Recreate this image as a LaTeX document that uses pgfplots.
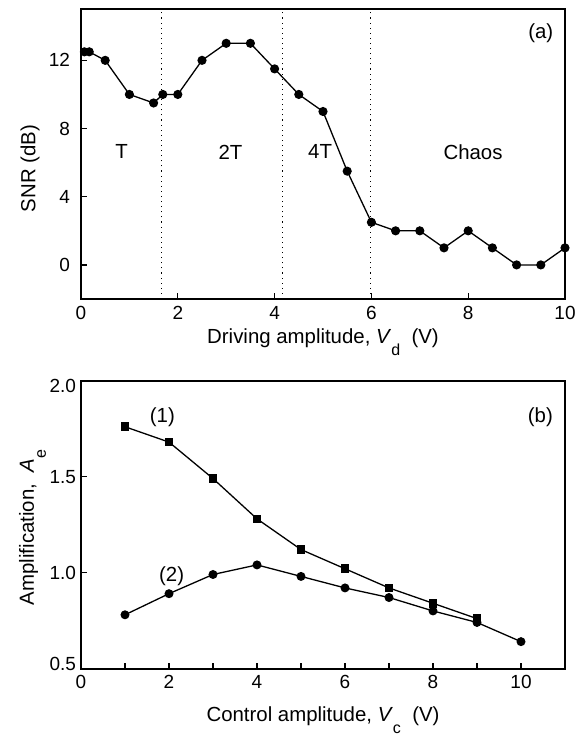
\documentclass[border=0pt]{standalone}
\usepackage{pgfplots}
\pgfplotsset{compat=1.18}
\usepackage{pgfplotstable}
\usepackage{fontspec}
\setmainfont{Liberation Sans}

% SNR against driving amplitude
\pgfplotstableread{
x y
0.07 12.5
0.17 12.5
0.5 12
1.0 10
1.5 9.5
1.69 10
2.0 10
2.5 12
3.0 13
3.5 13
4.0 11.5
4.5 10
5.0 9
5.5 5.5
6.0 2.5
6.5 2
7.0 2
7.5 1
8.0 2
8.5 1
9.0 0
9.5 0
10.0 1
}\snrdata

% Amplification against control amplitude, curve (1)
\pgfplotstableread{
x y
1 1.76
2 1.68
3 1.49
4 1.28
5 1.12
6 1.02
7 0.92
8 0.84
9 0.76
}\ampone

% Amplification against control amplitude, curve (2)
\pgfplotstableread{
x y
1 0.78
2 0.89
3 0.99
4 1.04
5 0.98
6 0.92
7 0.87
8 0.80
9 0.74
10 0.64
}\amptwo

\newcommand{\labfont}{\fontsize{10.2}{12}\selectfont}
\newcommand{\subfont}{\fontsize{8}{9}\selectfont}

\pgfplotsset{
  panel/.style={
    scale only axis,
    width=242pt,
    tick pos=left,
    tick align=inside,
    major tick length=3pt,
    minor tick length=3pt,
    axis line style={line width=1pt},
    every tick/.style={line width=0.6pt, black},
    ticklabel style={font=\fontsize{9.5}{11}\selectfont},
    label style={font=\labfont},
    /pgf/number format/assume math mode=true,
    clip=false,
  },
  curve/.style={black, line width=0.65pt},
}

\begin{document}
\begin{tikzpicture}
\path[use as bounding box] (0,0) rectangle (291pt,-367pt);

% (a) SNR
\begin{axis}[panel,
  at={(40.5pt,-149.5pt)}, anchor=south west,
  height=144.9pt,
  xmin=0, xmax=10, ymin=-2, ymax=15,
  xtick={0,2,...,10}, ytick={0,4,8,12},
  yticklabel style={xshift=-2pt},
  xlabel={Driving amplitude, \textit{V}\raisebox{-1.1ex}{\subfont d}\ \ (V)},
  ylabel={SNR (dB)},
  xlabel style={at={(axis description cs:0.5,-0.155)}, anchor=base},
  ylabel style={at={(axis description cs:-0.105,0.45)}, anchor=center},
]
\draw[dotted, line width=0.55pt] (axis cs:1.66,-2) -- (axis cs:1.66,15);
\draw[dotted, line width=0.55pt] (axis cs:4.17,-2) -- (axis cs:4.17,15);
\draw[dotted, line width=0.55pt] (axis cs:5.99,-2) -- (axis cs:5.99,15);
\addplot[curve, mark=*, mark size=1.95pt] table {\snrdata};
\node[font=\labfont] at (axis cs:0.84,6.63) {T};
\node[font=\labfont] at (axis cs:3.09,6.63) {2T};
\node[font=\labfont] at (axis cs:4.94,6.63) {4T};
\node[font=\labfont] at (axis cs:8.1,6.63) {Chaos};
\node[font=\labfont] at (axis cs:9.5,13.6) {(a)};
\end{axis}

% (b) amplification
\begin{axis}[panel,
  at={(40.5pt,-334.25pt)}, anchor=south west,
  height=143.9pt,
  xmin=0, xmax=11, ymin=0.5, ymax=2,
  xtick={0,2,...,10}, minor x tick num=1,
  ytick={0.5,1,1.5,2},
  yticklabels={\raisebox{2.5pt}[\height][\depth]{0.5},1.0,1.5,\raisebox{-2.5pt}[\height][\depth]{2.0}},
  yticklabel style={xshift=1pt},
  xlabel={Control amplitude, \textit{V}\raisebox{-1.1ex}{\subfont c}\ \ (V)},
  ylabel={Amplification,\ \ \textit{A}\raisebox{-1.1ex}{\subfont e}},
  xlabel style={at={(axis description cs:0.5,-0.184)}, anchor=base},
  ylabel style={at={(axis description cs:-0.1,0.49)}, anchor=center},
]
\addplot[curve, mark=square*, mark size=1.85pt] table {\ampone};
\addplot[curve, mark=*, mark size=1.9pt] table {\amptwo};
\node[font=\labfont] at (axis cs:1.85,1.81) {(1)};
\node[font=\labfont] at (axis cs:2.06,0.98) {(2)};
\node[font=\labfont] at (axis cs:10.44,1.81) {(b)};
\end{axis}
\end{tikzpicture}
\end{document}
